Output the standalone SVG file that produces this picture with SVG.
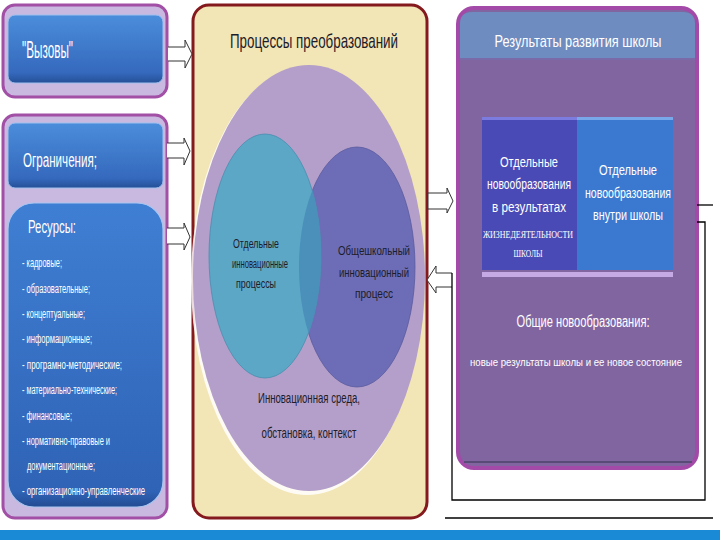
<svg xmlns="http://www.w3.org/2000/svg" width="720" height="540" viewBox="0 0 720 540">
<defs>
<linearGradient id="blueG" x1="0" y1="0" x2="0" y2="1">
<stop offset="0" stop-color="#4b8ddb"/>
<stop offset="0.85" stop-color="#3569bd"/>
<stop offset="1" stop-color="#244f96"/>
</linearGradient>
<linearGradient id="resG" x1="0" y1="0" x2="0" y2="1">
<stop offset="0" stop-color="#3f7fd3"/>
<stop offset="0.95" stop-color="#2f63b6"/>
<stop offset="1" stop-color="#234c92"/>
</linearGradient>
<clipPath id="cyanClip"><ellipse cx="265" cy="256" rx="56" ry="122"/></clipPath>
<style>
.outer{fill:#c9b9e1;stroke:#a24fa6;stroke-width:3}
.wt{fill:#ffffff;font-family:"Liberation Sans Narrow","Liberation Sans",Arial,sans-serif}
.bk{fill:#1c1c2a;font-family:"Liberation Sans Narrow","Liberation Sans",Arial,sans-serif}
.li{font-size:12px}
.arr{fill:#ffffff;stroke:#333333;stroke-width:1}
.ln{fill:none;stroke:#000000;stroke-width:1.3}
</style>
</defs>
<rect x="0" y="0" width="720" height="540" fill="#ffffff"/>
<rect x="0" y="530" width="720" height="10" fill="#1b8ad6"/>

<g id="challenges">
<rect class="outer" x="3" y="5" width="164" height="92" rx="12"/>
<rect x="8" y="15" width="155" height="68" rx="7" fill="url(#blueG)" stroke="#9fc0ee" stroke-width="1"/>
<text class="wt" x="22" y="58" font-size="23" textLength="51" lengthAdjust="spacingAndGlyphs">"Вызовы"</text>
</g>

<g id="constraints-resources">
<rect class="outer" x="3" y="115" width="164" height="403" rx="12"/>
<g id="constraints">
<rect x="8" y="123" width="155" height="65" rx="7" fill="url(#blueG)" stroke="#9fc0ee" stroke-width="1"/>
<text class="wt" x="23" y="167" font-size="20" textLength="74" lengthAdjust="spacingAndGlyphs">Ограничения;</text>
</g>
<g id="resources">
<rect x="8" y="203" width="155" height="304" rx="26" fill="url(#resG)" stroke="#a9c6ef" stroke-width="1.2"/>
<text class="wt" x="28" y="233" font-size="18" textLength="48" lengthAdjust="spacingAndGlyphs">Ресурсы:</text>
<text class="wt li" x="22" y="267" textLength="40" lengthAdjust="spacingAndGlyphs">- кадровые;</text>
<text class="wt li" x="22" y="293" textLength="68" lengthAdjust="spacingAndGlyphs">- образовательные;</text>
<text class="wt li" x="22" y="318" textLength="63" lengthAdjust="spacingAndGlyphs">- концептуальные;</text>
<text class="wt li" x="22" y="343" textLength="70" lengthAdjust="spacingAndGlyphs">- информационные;</text>
<text class="wt li" x="22" y="369" textLength="100" lengthAdjust="spacingAndGlyphs">- програмно-методические;</text>
<text class="wt li" x="22" y="394" textLength="95" lengthAdjust="spacingAndGlyphs">- материально-технические;</text>
<text class="wt li" x="22" y="420" textLength="50" lengthAdjust="spacingAndGlyphs">- финансовые;</text>
<text class="wt li" x="22" y="445" textLength="88" lengthAdjust="spacingAndGlyphs">- нормативно-правовые и</text>
<text class="wt li" x="27" y="470" textLength="68" lengthAdjust="spacingAndGlyphs">документационные;</text>
<text class="wt li" x="22" y="495" textLength="123" lengthAdjust="spacingAndGlyphs">- организационно-управленческие</text>
</g>
</g>

<g id="processes">
<rect x="193" y="5" width="234" height="513" rx="16" fill="#f2e5b6" stroke="#851a1e" stroke-width="3"/>
<text class="bk" x="314" y="48" font-size="21" text-anchor="middle" textLength="168" lengthAdjust="spacingAndGlyphs">Процессы преобразований</text>
<ellipse cx="307" cy="281" rx="116" ry="214" fill="#ffffff" opacity="0.85"/>
<ellipse cx="309" cy="278" rx="116" ry="213" fill="#b39fc9"/>
<g id="school-process">
<ellipse cx="357" cy="267" rx="58" ry="120" fill="#6c6db6" stroke="#5a5aa0" stroke-width="0.8"/>
<text class="bk" font-size="13" text-anchor="middle" x="374" y="255" textLength="72" lengthAdjust="spacingAndGlyphs">Общешкольный</text>
<text class="bk" font-size="13" text-anchor="middle" x="374" y="277" textLength="70" lengthAdjust="spacingAndGlyphs">инновационный</text>
<text class="bk" font-size="13" text-anchor="middle" x="374" y="298" textLength="38" lengthAdjust="spacingAndGlyphs">процесс</text>
</g>
<g id="separate-processes">
<ellipse cx="265" cy="256" rx="56" ry="122" fill="#5ca6c6" stroke="#4a8eae" stroke-width="0.8"/>
<ellipse cx="357" cy="267" rx="58" ry="120" fill="#4b8fbb" clip-path="url(#cyanClip)"/>
<text class="bk" font-size="13" text-anchor="middle" x="256" y="248" textLength="46" lengthAdjust="spacingAndGlyphs">Отдельные</text>
<text class="bk" font-size="13" text-anchor="middle" x="260" y="268" textLength="56" lengthAdjust="spacingAndGlyphs">инновационные</text>
<text class="bk" font-size="13" text-anchor="middle" x="256" y="288" textLength="40" lengthAdjust="spacingAndGlyphs">процессы</text>
</g>
<text class="bk" font-size="15" text-anchor="middle" x="309" y="403" textLength="102" lengthAdjust="spacingAndGlyphs">Инновационная среда,</text>
<text class="bk" font-size="15" text-anchor="middle" x="309" y="438" textLength="95" lengthAdjust="spacingAndGlyphs">обстановка, контекст</text>
</g>

<g id="results">
<rect x="458" y="8" width="239" height="460" rx="16" fill="#8165a1" stroke="#a34aa8" stroke-width="4"/>
<path d="M460,24 Q460,12 472,12 L683,12 Q695,12 695,24 L695,59 L460,59 Z" fill="#6f8cc0"/>
<line x1="460" y1="59" x2="695" y2="59" stroke="#7a6aa8" stroke-width="2"/>
<text class="wt" x="578" y="47" font-size="17" text-anchor="middle" textLength="167" lengthAdjust="spacingAndGlyphs">Результаты развития школы</text>
<g id="outcomes-life">
<rect x="482" y="117" width="95" height="153" fill="#4a4ab6"/>
<rect x="482" y="117" width="95" height="3" fill="#7b7be0"/>
<text class="wt" font-size="14" text-anchor="middle" x="529" y="167" textLength="58" lengthAdjust="spacingAndGlyphs">Отдельные</text>
<text class="wt" font-size="14" text-anchor="middle" x="529" y="189" textLength="84" lengthAdjust="spacingAndGlyphs">новообразования</text>
<text class="wt" font-size="14" text-anchor="middle" x="529" y="212" textLength="74" lengthAdjust="spacingAndGlyphs">в результатах</text>
<text x="528" y="238" font-size="10" fill="#ffffff" font-family="'Liberation Serif','Times New Roman',serif" text-anchor="middle" textLength="90" lengthAdjust="spacingAndGlyphs">ЖИЗНЕДЕЯТЕЛЬНОСТИ</text>
<text x="528" y="257" font-size="10" fill="#ffffff" font-family="'Liberation Serif','Times New Roman',serif" text-anchor="middle" textLength="29" lengthAdjust="spacingAndGlyphs">ШКОЛЫ</text>
</g>
<g id="outcomes-inside">
<rect x="577" y="117" width="96" height="153" fill="#3b79d1"/>
<rect x="577" y="117" width="96" height="3" fill="#78a8ea"/>
<text class="wt" font-size="14" text-anchor="middle" x="628" y="175" textLength="58" lengthAdjust="spacingAndGlyphs">Отдельные</text>
<text class="wt" font-size="14" text-anchor="middle" x="628" y="198" textLength="86" lengthAdjust="spacingAndGlyphs">новообразования</text>
<text class="wt" font-size="14" text-anchor="middle" x="628" y="220" textLength="70" lengthAdjust="spacingAndGlyphs">внутри школы</text>
</g>
<rect x="482" y="272" width="191" height="5" fill="#c4a9e4"/>
<text class="wt" font-size="16" text-anchor="middle" x="583" y="327" textLength="133" lengthAdjust="spacingAndGlyphs">Общие новообразования:</text>
<text class="wt" font-size="11" text-anchor="middle" x="576" y="366" textLength="212" lengthAdjust="spacingAndGlyphs">новые результаты школы и ее новое состояние</text>
<line x1="464" y1="462" x2="692" y2="462" stroke="#5a4a78" stroke-width="2"/>
</g>

<g id="connectors">
<polyline class="arr" points="168,47 185,47 185,40 192,54 185,68 185,61 168,61"/>
<polyline class="arr" points="167,143 184,143 184,138 190,151 184,165 184,158 167,158"/>
<polyline class="arr" points="167,228 184,228 184,223 190,237 184,250 184,244 167,244"/>
<polygon class="arr" points="428,193 447,193 447,188 453,201 447,213 447,209 428,209"/>
<polyline class="arr" points="452,273 436,273 436,266 427,280 436,293 436,287 452,287"/>
<line class="ln" x1="697" y1="205" x2="713" y2="205"/>
<polyline class="ln" points="697,222 705,222 705,500 452,500 452,273"/>
<line class="ln" x1="445" y1="518" x2="713" y2="518"/>
</g>
</svg>
